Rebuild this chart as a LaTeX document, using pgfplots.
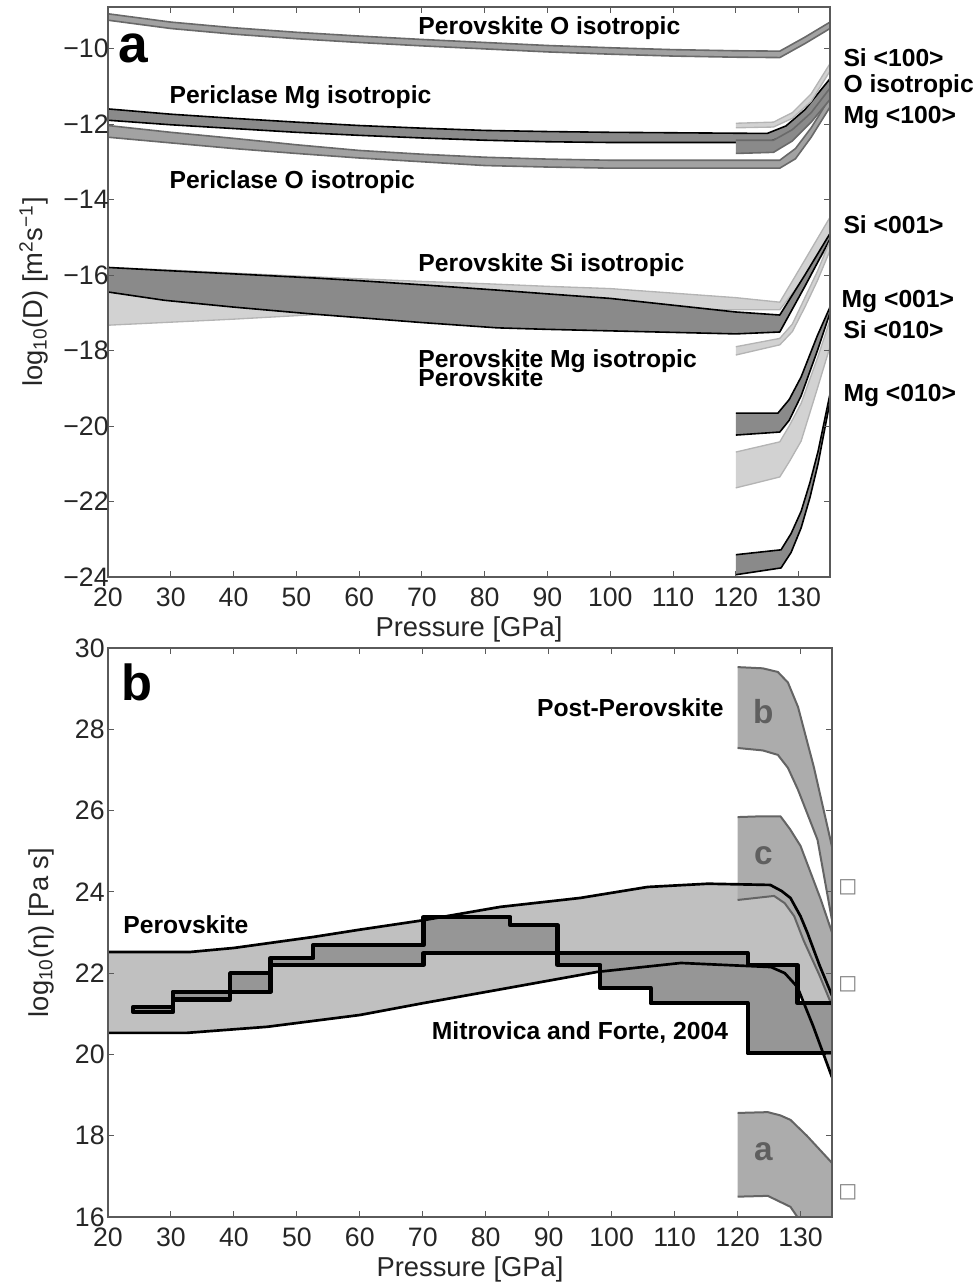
\documentclass[border=0pt]{standalone}
\usepackage{fontspec}
\setmainfont{Liberation Sans}
\newfontfamily\dejavu{DejaVu Sans}
\usepackage{pgfplots}
\pgfplotsset{compat=1.18}
\usepackage{pgfplotstable}

\definecolor{lt}{RGB}{210,210,210}
\definecolor{ltl}{RGB}{180,180,180}
\definecolor{dk}{RGB}{138,138,138}
\definecolor{md}{RGB}{162,162,162}
\definecolor{ol}{RGB}{105,105,105}
\definecolor{pvb}{RGB}{192,192,192}
\definecolor{mfb}{RGB}{150,150,150}
\definecolor{ppb}{RGB}{172,172,172}
\definecolor{ppl}{RGB}{100,100,100}
\definecolor{letc}{RGB}{95,95,95}
\definecolor{axc}{RGB}{90,90,90}

% ---------- panel a data (polygons: upper edge forward, lower edge backward)
\pgfplotstableread{
x y
20 -9.08
30 -9.30
40 -9.45
50 -9.57
60 -9.67
70 -9.76
80 -9.84
90 -9.92
100 -9.98
110 -10.03
120 -10.06
127 -10.07
131 -9.70
135 -9.30
135 -9.47
131 -9.87
127 -10.24
120 -10.23
110 -10.20
100 -10.15
90 -10.09
80 -10.01
70 -9.93
60 -9.84
50 -9.74
40 -9.62
30 -9.47
20 -9.25
}\PvO
\pgfplotstableread{
x y
20 -11.60
30 -11.74
40 -11.85
50 -11.95
60 -12.04
70 -12.11
80 -12.17
90 -12.20
100 -12.22
125 -12.25
128 -12.05
131 -11.62
135 -10.80
135 -11.10
131 -11.95
128 -12.30
125 -12.49
100 -12.49
90 -12.47
80 -12.43
70 -12.37
60 -12.30
50 -12.22
40 -12.12
30 -12.02
20 -11.90
}\PeMg
\pgfplotstableread{
x y
20 -12.04
30 -12.22
40 -12.38
50 -12.55
60 -12.70
70 -12.80
80 -12.88
90 -12.93
100 -12.96
127 -12.96
129.5 -12.65
132 -12.10
135 -11.30
135 -11.55
132 -12.35
129.5 -12.92
127 -13.17
100 -13.17
90 -13.14
80 -13.10
70 -13.00
60 -12.90
50 -12.78
40 -12.65
30 -12.50
20 -12.35
}\PeO
\pgfplotstableread{
x y
120 -11.98
126 -11.95
129 -11.70
132 -11.20
135 -10.40
135 -10.60
132 -11.40
129 -11.85
126 -12.08
120 -12.10
}\PPaSi
\pgfplotstableread{
x y
120 -12.43
126 -12.43
129 -12.15
132 -11.70
135 -11.05
135 -11.35
132 -11.95
129 -12.45
126 -12.75
120 -12.78
}\PPaMg
\pgfplotstableread{
x y
20 -15.80
30 -15.87
40 -15.95
53 -16.05
60 -16.10
70 -16.17
80 -16.23
90 -16.30
100 -16.36
110 -16.48
120 -16.60
127 -16.72
131 -15.60
135 -14.47
135 -15.20
131 -16.06
127 -16.92
120 -16.92
110 -16.93
100 -16.95
90 -16.96
80 -16.98
70 -17.00
60 -17.02
53 -17.05
40 -17.17
30 -17.25
20 -17.33
}\PvSi
\pgfplotstableread{
x y
20 -15.80
29 -15.88
40 -15.97
53 -16.08
60 -16.15
70 -16.26
82 -16.40
90 -16.50
100 -16.62
110 -16.80
120 -16.98
127 -17.06
131 -16.00
135 -14.90
135 -15.05
131 -16.30
127 -17.51
120 -17.56
110 -17.52
100 -17.48
90 -17.44
82 -17.40
70 -17.26
60 -17.13
53 -17.04
40 -16.85
29 -16.67
20 -16.45
}\PvMg
\pgfplotstableread{
x y
120 -17.90
127 -17.68
129 -17.30
131 -16.60
133 -15.90
135 -15.10
135 -15.35
133 -16.15
131 -16.85
129 -17.50
127 -17.85
120 -18.12
}\PPbSi
\pgfplotstableread{
x y
120 -19.66
126.7 -19.66
128.5 -19.30
130.4 -18.70
133 -17.60
135 -16.85
135 -17.00
133 -18.00
130.4 -19.20
128.5 -19.85
127 -20.16
120 -20.24
}\PPbMg
\pgfplotstableread{
x y
120 -20.69
127 -20.42
128.5 -20.00
130.4 -19.40
133 -18.20
135 -17.20
135 -17.90
133 -19.00
130.4 -20.40
128.5 -20.95
127 -21.35
120 -21.64
}\PPcSi
\pgfplotstableread{
x y
120 -23.41
127.2 -23.28
128.8 -22.85
130.4 -22.26
131.8 -21.50
133.1 -20.67
135 -19.15
135 -19.35
133.1 -21.00
131.8 -21.90
130.4 -22.70
128.8 -23.35
127.2 -23.76
120 -23.94
}\PPcMg

% ---------- panel b data
\pgfplotstableread{
x y
20 22.52
33 22.52
40 22.62
52.6 22.89
60 23.07
70 23.30
82.3 23.63
95 23.85
105.7 24.12
115.3 24.20
125.2 24.17
127 24.02
128.4 23.85
130 23.40
131.1 22.99
133 22.20
135 21.45
135 19.44
132 20.70
129.5 21.66
127.5 22.00
125.3 22.15
111 22.25
97.7 22.03
82.3 21.60
70 21.26
60 20.97
45.3 20.68
32.5 20.53
20 20.53
}\Pvb
\pgfplotstableread{
x y
120 29.53
124 29.50
126.4 29.41
128 29.15
129.6 28.55
132.1 27.08
135 25.11
135 23.30
132.7 25.28
129.6 26.51
128 27.05
126.4 27.37
124 27.48
120 27.54
}\PPb
\pgfplotstableread{
x y
120 25.84
124 25.86
126.8 25.86
128.3 25.55
130 25.13
133.2 23.82
135 23.00
135 21.20
133 21.95
130.5 22.80
129 23.40
127.5 23.72
125.8 23.90
120 23.80
}\PPc
\pgfplotstableread{
x y
120 18.56
124.8 18.58
126.8 18.50
128.4 18.39
131 18.00
135 17.33
135 16.00
129.5 16.00
128.4 16.25
124.8 16.52
120 16.50
}\PPa
\pgfplotstableread{
x y
135 21.26
129.5 21.26
129.5 22.20
121.6 22.20
121.6 22.49
70.1 22.49
70.1 22.20
45.8 22.20
45.8 21.54
39.4 21.54
39.4 21.35
30.3 21.35
30.3 21.04
24 21.04
24 21.17
30.3 21.17
30.3 21.54
39.4 21.54
39.4 22.00
45.8 22.00
45.8 22.37
52.6 22.37
52.6 22.69
70.1 22.69
70.1 23.38
83.9 23.38
83.9 23.18
91.4 23.18
91.4 22.20
98.2 22.20
98.2 21.63
106.2 21.63
106.2 21.26
121.6 21.26
121.6 20.03
135 20.03
}\MF

% band: #1 table, #2 last upper index, #3 first lower index, #4 last lower index, #5 fill, #6 line colour, #7 line width
\newcommand\band[7]{%
  \addplot[fill=#5, draw=none, forget plot] table{#1};
  \addplot[draw=#6, line width=#7, line join=round, forget plot, restrict expr to domain={\coordindex}{0:#2}] table{#1};
  \addplot[draw=#6, line width=#7, line join=round, forget plot, restrict expr to domain={\coordindex}{#3:#4}] table{#1};
}

\pgfplotsset{
  myax/.style={
    scale only axis, anchor=south west,
    xmin=20, xmax=135, xtick={20,30,...,130},
    tick align=inside, tick pos=both, major tick length=4.5pt,
    axis on top, clip mode=individual,
    axis line style={axc, line width=0.9pt},
    every tick/.style={axc, line width=0.7pt},
    ticklabel style={font=\fontsize{20}{22}\selectfont, text=black!85},
    xticklabel style={yshift=-5pt},
    label style={font=\fontsize{20.5}{23}\selectfont, text=black!85},
    /pgf/number format/assume math mode=true,
    xlabel={Pressure [GPa]},
  },
}
\tikzset{lab/.style={anchor=west, inner xsep=1pt, font=\bfseries\fontsize{18.5}{20}\selectfont}}

\begin{document}
\begin{tikzpicture}
\path[use as bounding box] (0,0) rectangle (732pt,963.75pt);

% ================= panel a
\begin{axis}[myax, at={(81pt,531pt)}, width=541.5pt, height=427.5pt,
  ymin=-24, ymax=-8.9,
  ytick={-24,-22,...,-10}, yticklabels={−24,−22,−20,−18,−16,−14,−12,−10},
  yticklabel style={xshift=4pt},
  ylabel={log\textsubscript{10}(D) [m\textsuperscript{2}s\textsuperscript{−1}]},
  ylabel style={at={(ticklabel cs:0.5,4.5pt)}},
]
\band{\PvO}{13}{14}{27}{md}{ol}{1.2pt}
\band{\PeO}{12}{13}{25}{md}{ol}{1.2pt}
\band{\PeMg}{12}{13}{25}{dk}{black}{1.2pt}
\band{\PPaSi}{4}{5}{9}{lt}{ltl}{1pt}
\band{\PPaMg}{4}{5}{9}{dk}{ol}{1.2pt}
\band{\PvSi}{13}{14}{27}{lt}{ltl}{1pt}
\band{\PvMg}{13}{14}{27}{dk}{black}{1.2pt}
\band{\PPbSi}{5}{6}{11}{lt}{ltl}{1pt}
\band{\PPbMg}{5}{6}{11}{dk}{black}{1.2pt}
\band{\PPcSi}{5}{6}{11}{lt}{ltl}{1pt}
\band{\PPcMg}{6}{7}{13}{dk}{black}{1.2pt}

\node[anchor=center, font=\bfseries\fontsize{40}{40}\selectfont] at (axis cs:24.0,-10.0) {a};
\node[lab] at (axis cs:69.2,-9.47) {Perovskite O isotropic};
\node[lab] at (axis cs:29.55,-11.3) {Periclase Mg isotropic};
\node[lab] at (axis cs:29.55,-13.54) {Periclase O isotropic};
\node[lab] at (axis cs:69.2,-15.74) {Perovskite Si isotropic};
\node[lab] at (axis cs:69.2,-18.28) {Perovskite Mg isotropic};
\node[lab] at (axis cs:69.2,-18.73) {Perovskite};
\node[lab] at (axis cs:136.9,-10.25) {Si <100>};
\node[lab] at (axis cs:136.9,-11.0) {O isotropic};
\node[lab] at (axis cs:136.9,-11.84) {Mg <100>};
\node[lab] at (axis cs:136.9,-14.66) {Si <001>};
\node[lab] at (axis cs:136.6,-16.69) {Mg <001>};
\node[lab] at (axis cs:136.9,-17.46) {Si <010>};
\node[lab] at (axis cs:136.9,-19.2) {Mg <010>};
\end{axis}

% ================= panel b
\begin{axis}[myax, at={(81pt,51pt)}, width=543pt, height=426.75pt,
  ymin=16, ymax=30, ytick={16,18,...,30},
  yticklabel style={xshift=1pt},
  ylabel={log\textsubscript{10}(η) [Pa s]},
  ylabel style={at={(ticklabel cs:0.5,9pt)}},
]
\addplot[fill=pvb, draw=none, forget plot] table{\Pvb};
\addplot[fill=ppb, draw=none, forget plot] table{\PPc};
\addplot[fill=ppb, draw=none, forget plot] table{\PPb};
\addplot[fill=ppb, draw=none, forget plot] table{\PPa};
\addplot[fill=mfb, draw=none, forget plot] table{\MF};
% PPv outlines
\addplot[draw=ppl, line width=1.5pt, line join=round, forget plot, restrict expr to domain={\coordindex}{0:6}] table{\PPb};
\addplot[draw=ppl, line width=1.5pt, line join=round, forget plot, restrict expr to domain={\coordindex}{7:13}] table{\PPb};
\addplot[draw=ppl, line width=1.5pt, line join=round, forget plot, restrict expr to domain={\coordindex}{0:6}] table{\PPc};
\addplot[draw=ppl, line width=1.5pt, line join=round, forget plot, restrict expr to domain={\coordindex}{7:13}] table{\PPc};
\addplot[draw=ppl, line width=1.5pt, line join=round, forget plot, restrict expr to domain={\coordindex}{0:5}] table{\PPa};
\addplot[draw=ppl, line width=1.5pt, line join=round, forget plot, restrict expr to domain={\coordindex}{7:10}] table{\PPa};
% perovskite outline
\addplot[draw=black, line width=2pt, line join=round, forget plot, restrict expr to domain={\coordindex}{0:16}] table{\Pvb};
\addplot[draw=black, line width=2pt, line join=round, forget plot, restrict expr to domain={\coordindex}{17:29}] table{\Pvb};
% Mitrovica and Forte
\addplot[draw=black, line width=3.2pt, line join=round, line cap=round, forget plot] table{\MF};

\node[anchor=center, font=\bfseries\fontsize{38}{38}\selectfont] at (axis cs:24.6,29.16) {b};
\node[lab] at (axis cs:87.9,28.52) {Post-Perovskite};
\node[lab] at (axis cs:22.2,23.18) {Perovskite};
\node[lab] at (axis cs:71.2,20.55) {Mitrovica and Forte, 2004};
\node[font=\bfseries\fontsize{25}{25}\selectfont, text=letc] at (axis cs:124.1,28.43) {b};
\node[font=\bfseries\fontsize{25}{25}\selectfont, text=letc] at (axis cs:124.1,24.9) {c};
\node[font=\bfseries\fontsize{25}{25}\selectfont, text=letc] at (axis cs:124.1,17.6) {a};
\node[font=\dejavu\fontsize{15}{15}\selectfont, text=gray] at (axis cs:137.5,24.12) {□};
\node[font=\dejavu\fontsize{15}{15}\selectfont, text=gray] at (axis cs:137.5,21.72) {□};
\node[font=\dejavu\fontsize{15}{15}\selectfont, text=gray] at (axis cs:137.5,16.6) {□};
\end{axis}
\end{tikzpicture}
\end{document}
